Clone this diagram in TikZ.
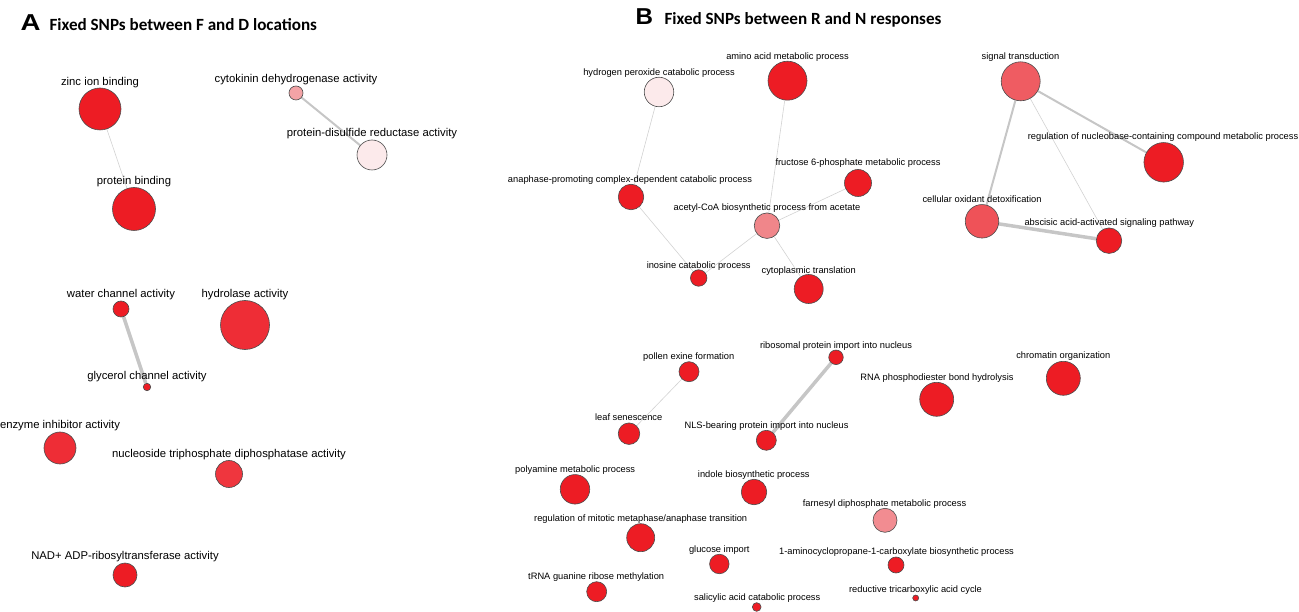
\documentclass[tikz,border=0pt]{standalone}
\usepackage{fontspec}
\setmainfont{Liberation Sans}
\newfontfamily\titlefont{Carlito}
\usetikzlibrary{backgrounds}
\definecolor{cRed}{HTML}{ED1C24}
\definecolor{cRedB}{HTML}{EE2D36}
\definecolor{cRedC}{HTML}{EF363E}
\definecolor{cPinkA}{HTML}{F3A3A6}
\definecolor{cPale}{HTML}{FCEAEB}
\definecolor{cPinkB}{HTML}{F0868A}
\definecolor{cSalA}{HTML}{EF5C62}
\definecolor{cSalB}{HTML}{EF5258}
\definecolor{cPinkC}{HTML}{F28C91}
\definecolor{edgeC}{HTML}{D2D2D2}
\definecolor{edgeD}{HTML}{C6C6C6}
\tikzset{
  gn/.style={circle, draw=black!70, line width=0.6pt, inner sep=0pt, fill=cRed},
  laba/.style={inner sep=0pt, text height=0.72em, text depth=0.2em, font=\fontsize{11.3}{13}\selectfont},
  labb/.style={inner sep=0pt, text height=0.72em, text depth=0.2em, font=\fontsize{9.3}{11}\selectfont},
  ethin/.style={draw=edgeC, line width=0.6pt},
  emed/.style={draw=edgeD, line width=2pt},
  ethick/.style={draw=edgeD, line width=3.5pt},
  ptitle/.style={inner sep=0pt, anchor=base west, font=\titlefont\bfseries\fontsize{17.1}{20}\selectfont},
  pletter/.style={inner sep=0pt, anchor=base west, font=\bfseries\fontsize{23}{26}\selectfont}
}
\begin{document}
\begin{tikzpicture}[x=1pt,y=-1pt]
\useasboundingbox (0,0) rectangle (1299,612);
% titles
\node[pletter] (tA) at (20.5,30.5) {\scalebox{1.2}[1]{A}};
\node[ptitle] (tAt) at (49.3,31) {Fixed SNPs between F and D locations};
\node[pletter] (tB) at (635.5,24.5) {\scalebox{1.05}[1]{B}};
\node[ptitle] (tBt) at (664.3,24.3) {Fixed SNPs between R and N responses};

% ---------- Panel A ----------
\node[gn, minimum size=42] (zinc) at (100,109) {};
\node[laba] (zincl) at (100,83) {zinc ion binding};
\node[gn, minimum size=43] (prot) at (134,209) {};
\node[laba] (protl) at (134,182) {protein binding};
\node[gn, minimum size=14, fill=cPinkA] (cyto) at (296,93) {};
\node[laba] (cytol) at (296,80) {cytokinin dehydrogenase activity};
\node[gn, minimum size=30, fill=cPale] (pdis) at (372,155) {};
\node[laba] (pdisl) at (372,134) {protein-disulfide reductase activity};
\node[gn, minimum size=16] (water) at (121,309) {};
\node[laba] (waterl) at (121,295) {water channel activity};
\node[gn, minimum size=49, fill=cRedB] (hydro) at (245,325) {};
\node[laba] (hydrol) at (245,295) {hydrolase activity};
\node[gn, minimum size=7.5] (glyc) at (147,387) {};
\node[laba] (glycl) at (147,377) {glycerol channel activity};
\node[gn, minimum size=32, fill=cRedB] (enz) at (60,448) {};
\node[laba] (enzl) at (60,426) {enzyme inhibitor activity};
\node[gn, minimum size=27, fill=cRedC] (nucl) at (229,474) {};
\node[laba] (nucll) at (229,455) {nucleoside triphosphate diphosphatase activity};
\node[gn, minimum size=24] (nad) at (125,575) {};
\node[laba] (nadl) at (125,557) {NAD+ ADP-ribosyltransferase activity};

% ---------- Panel B top ----------
\node[gn, minimum size=39] (amino) at (787.5,80.7) {};
\node[labb] (aminol) at (787.5,57) {amino acid metabolic process};
\node[gn, minimum size=29.5, fill=cPale] (hper) at (659,92) {};
\node[labb] (hperl) at (659,73) {hydrogen peroxide catabolic process};
\node[gn, minimum size=25.5] (anap) at (631,197) {};
\node[labb] (anapl) at (630,180) {anaphase-promoting complex-dependent catabolic process};
\node[gn, minimum size=27] (fruc) at (858,183) {};
\node[labb] (frucl) at (858,163) {fructose 6-phosphate metabolic process};
\node[gn, minimum size=25.5, fill=cPinkB] (acet) at (767,225.7) {};
\node[labb] (acetl) at (767,208) {acetyl-CoA biosynthetic process from acetate};
\node[gn, minimum size=16.5] (inos) at (698.7,278) {};
\node[labb] (inosl) at (698.7,266) {inosine catabolic process};
\node[gn, minimum size=29] (cytop) at (808.7,289) {};
\node[labb] (cytopl) at (808.7,270.7) {cytoplasmic translation};

\node[gn, minimum size=39, fill=cSalA] (sig) at (1020.7,81.3) {};
\node[labb] (sigl) at (1020.5,57) {signal transduction};
\node[gn, minimum size=39.5] (regn) at (1163.7,162.3) {};
\node[labb] (regnl) at (1163,137.3) {regulation of nucleobase-containing compound metabolic process};
\node[gn, minimum size=33.5, fill=cSalB] (cell) at (982,221.3) {};
\node[labb] (celll) at (982,200) {cellular oxidant detoxification};
\node[gn, minimum size=25.5] (absc) at (1109,240.7) {};
\node[labb] (abscl) at (1109.3,223.3) {abscisic acid-activated signaling pathway};

% ---------- Panel B bottom ----------
\node[gn, minimum size=14.5] (ribo) at (836,357.3) {};
\node[labb] (ribol) at (836,345.7) {ribosomal protein import into nucleus};
\node[gn, minimum size=20] (poll) at (689,371.7) {};
\node[labb] (polll) at (688.7,356.7) {pollen exine formation};
\node[gn, minimum size=21.5] (leaf) at (629,433.7) {};
\node[labb] (leafl) at (628.7,418.3) {leaf senescence};
\node[gn, minimum size=20] (nls) at (766.3,440.3) {};
\node[labb] (nlsl) at (766.5,425.7) {NLS-bearing protein import into nucleus};
\node[gn, minimum size=34] (rna) at (936.7,399.3) {};
\node[labb] (rnal) at (937,377.7) {RNA phosphodiester bond hydrolysis};
\node[gn, minimum size=34] (chrom) at (1063.3,378.3) {};
\node[labb] (chroml) at (1063.3,356) {chromatin organization};
\node[gn, minimum size=29.5] (poly) at (575,489.3) {};
\node[labb] (polyl) at (575.2,469.7) {polyamine metabolic process};
\node[gn, minimum size=25.5] (indo) at (754,492) {};
\node[labb] (indol) at (753.8,474.7) {indole biosynthetic process};
\node[gn, minimum size=24, fill=cPinkC] (farn) at (885,520.3) {};
\node[labb] (farnl) at (884.5,503.7) {farnesyl diphosphate metabolic process};
\node[gn, minimum size=28] (mito) at (640.7,537.7) {};
\node[labb] (mitol) at (640.7,519.3) {regulation of mitotic metaphase/anaphase transition};
\node[gn, minimum size=19.5] (gluc) at (719.3,564) {};
\node[labb] (glucl) at (719.3,550) {glucose import};
\node[gn, minimum size=16] (acc) at (896,565) {};
\node[labb] (accl) at (896.5,552.3) {1-aminocyclopropane-1-carboxylate biosynthetic process};
\node[gn, minimum size=20] (trna) at (596.7,591.7) {};
\node[labb] (trnal) at (596.2,577) {tRNA guanine ribose methylation};
\node[gn, minimum size=8.7] (sali) at (756.7,607) {};
\node[labb] (salil) at (757.2,598.3) {salicylic acid catabolic process};
\node[gn, minimum size=6] (rtca) at (915.7,598) {};
\node[labb] (rtcal) at (915.5,590) {reductive tricarboxylic acid cycle};

% ---------- edges ----------
\begin{scope}[on background layer]
\draw[ethin] (zinc) -- (prot);
\draw[emed] (cyto) -- (pdis);
\draw[ethick] (water) -- (glyc);
\draw[ethin] (hper) -- (anap);
\draw[ethin] (amino) -- (acet);
\draw[ethin] (anap) -- (inos);
\draw[ethin] (acet) -- (inos);
\draw[ethin] (acet) -- (cytop);
\draw[ethin] (acet) -- (fruc);
\draw[emed] (sig) -- (regn);
\draw[emed] (sig) -- (cell);
\draw[ethin] (sig) -- (absc);
\draw[ethick] (cell) -- (absc);
\draw[ethin] (poll) -- (leaf);
\draw[ethick] (ribo) -- (nls);
\end{scope}
\end{tikzpicture}
\end{document}
